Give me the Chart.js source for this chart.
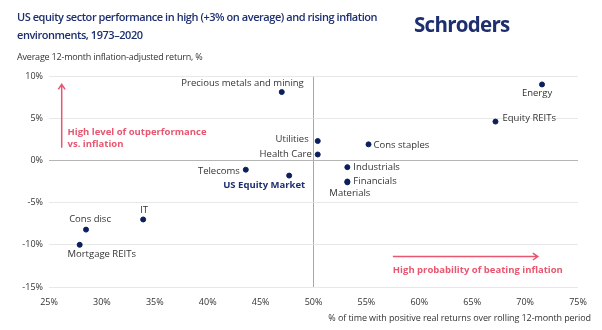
<!DOCTYPE html>
<html>
<head>
<meta charset="utf-8">
<script src="https://cdn.jsdelivr.net/npm/chart.js@4.4.0/dist/chart.umd.min.js"></script>
<style>
  body { margin: 0; background: #fff; font-family: "Open Sans", sans-serif; }
  #wrap { position: relative; width: 602px; height: 330px; }
  #chart { position: absolute; left: 0; top: 0; }
  .title { position: absolute; left: 17px; top: 8px; color: #1d2f6f; font-weight: 600; font-size: 11px; line-height: 18px; letter-spacing: -0.45px; }
  .logo { position: absolute; left: 414px; top: 10px; color: #1d2f6f; font-weight: 700; font-size: 20.5px; letter-spacing: -0.7px; }
  .ycap { position: absolute; left: 17px; top: 50px; color: #333; font-size: 9px; letter-spacing: -0.2px; }
  .xcap { position: absolute; right: 11px; top: 311px; color: #333; font-size: 9px; letter-spacing: -0.1px; }
</style>
</head>
<body>
<div id="wrap">
  <canvas id="chart" width="602" height="330"></canvas>
  <div class="title">US equity sector performance in high (+3% on average) and rising inflation<br>environments, 1973–2020</div>
  <div class="logo">Schroders</div>
  <div class="ycap">Average 12-month inflation-adjusted return, %</div>
  <div class="xcap">% of time with positive real returns over rolling 12-month period</div>
</div>
<script>
// sectors: % of time with positive real returns vs average real return
const sectors = ['Precious metals and mining', 'Energy', 'Equity REITs', 'Utilities', 'Health Care', 'Cons staples',
    'Industrials', 'Financials', 'Materials', 'Telecoms', 'US Equity Market', 'IT', 'Cons disc', 'Mortgage REITs'];
const pctPositive = [47.0, 71.6, 67.2, 50.4, 50.4, 55.2, 53.2, 53.2, 53.2, 43.6, 47.7, 33.9, 28.5, 27.9];
const avgReturn = [8.1, 9.0, 4.6, 2.3, 0.7, 1.9, -0.8, -2.5, -2.6, -1.1, -1.8, -7.0, -8.2, -10.0];
const xTicks = [25, 30, 35, 40, 45, 50, 55, 60, 65, 70, 75];
const yTicks = [-15, -10, -5, 0, 5, 10];

// label placement (dx, dy, align) for each sector
const labelPos = [
    [22, -9, 'right'], [-5, 9, 'center'], [7, -3, 'left'], [-9, -2, 'right'], [-6, 0, 'right'], [5, 1, 'left'],
    [6, 0, 'left'], [6, 0, 'left'], [-18, 11, 'left'], [-6, 2, 'right'], [16, 10, 'right'], [1, -9, 'center'],
    [4, -10, 'center'], [22, 9, 'center']
];

const navy = '#0b1f5c';
const pink = '#e8566f';

const points = [];
for (let i = 0; i < sectors.length; i++) {
    points.push({x: pctPositive[i], y: avgReturn[i]});
}

function arrow(ctx, x1, y1, x2, y2) {
    const a = Math.atan2(y2 - y1, x2 - x1);
    const h = 6;
    ctx.beginPath();
    ctx.moveTo(x1, y1);
    ctx.lineTo(x2, y2);
    ctx.moveTo(x2 - h * Math.cos(a - 0.6), y2 - h * Math.sin(a - 0.6));
    ctx.lineTo(x2, y2);
    ctx.lineTo(x2 - h * Math.cos(a + 0.6), y2 - h * Math.sin(a + 0.6));
    ctx.stroke();
}

const labelPlugin = {
    id: 'labels',
    afterDatasetsDraw(chart) {
        const ctx = chart.ctx;
        const xs = chart.scales.x, ys = chart.scales.y;
        const meta = chart.getDatasetMeta(0);
        ctx.save();
        ctx.textBaseline = 'middle';
        meta.data.forEach(function (pt, i) {
            const p = labelPos[i];
            if (sectors[i] == 'US Equity Market') {
                ctx.font = 'bold 9.5px "Open Sans"';
                ctx.fillStyle = '#1d2f6f';
            } else {
                ctx.font = '9.5px "Open Sans"';
                ctx.fillStyle = '#333';
            }
            ctx.textAlign = p[2];
            ctx.fillText(sectors[i], pt.x + p[0], pt.y + p[1]);
        });

        // annotations
        ctx.strokeStyle = pink;
        ctx.fillStyle = pink;
        ctx.lineWidth = 1.5;
        arrow(ctx, xs.getPixelForValue(26.2), ys.getPixelForValue(1.5), xs.getPixelForValue(26.2), ys.getPixelForValue(9.0));
        arrow(ctx, xs.getPixelForValue(57.5), ys.getPixelForValue(-11.4), xs.getPixelForValue(71.2), ys.getPixelForValue(-11.4));
        ctx.font = 'bold 9.5px "Open Sans"';
        ctx.textAlign = 'left';
        ctx.fillText('High level of outperformance', xs.getPixelForValue(26.75), ys.getPixelForValue(3.35));
        ctx.fillText('vs. inflation', xs.getPixelForValue(26.75), ys.getPixelForValue(1.95));
        ctx.fillText('High probability of beating inflation', xs.getPixelForValue(57.5), ys.getPixelForValue(-13.0));
        ctx.restore();
    }
};

const ctx = document.getElementById('chart').getContext('2d');
const myChart = new Chart(ctx, {
    type: 'scatter',
    data: {
        datasets: [{
            data: points,
            backgroundColor: navy,
            borderColor: navy,
            pointRadius: 2.5,
            pointHoverRadius: 2.5
        }]
    },
    options: {
        responsive: false,
        animation: false,
        layout: { padding: { top: 76, right: 24, left: 0, bottom: 0 } },
        plugins: { legend: { display: false }, tooltip: { enabled: false } },
        scales: {
            x: {
                min: 25, max: 75,
                afterBuildTicks: function (s) { s.ticks = xTicks.map(v => ({value: v})); },
                afterFit: function (s) { s.height = 43; },
                border: { display: false },
                grid: {
                    drawTicks: false,
                    lineWidth: 1,
                    color: c => c.tick && c.tick.value == 50 ? '#a8a8a8' : 'rgba(0,0,0,0)'
                },
                ticks: { padding: 10, color: '#333', font: { family: 'Open Sans', size: 9 }, callback: v => v + '%' }
            },
            y: {
                min: -15, max: 10,
                afterBuildTicks: function (s) { s.ticks = yTicks.map(v => ({value: v})); },
                afterFit: function (s) { s.width = 49; },
                border: { display: false },
                grid: {
                    drawTicks: false,
                    color: c => c.tick && c.tick.value == 0 ? '#b5b5b5' : '#e8e8e8'
                },
                ticks: { padding: 6, color: '#333', font: { family: 'Open Sans', size: 9 }, callback: v => v + '%' }
            }
        }
    },
    plugins: [labelPlugin]
});
</script>
</body>
</html>
